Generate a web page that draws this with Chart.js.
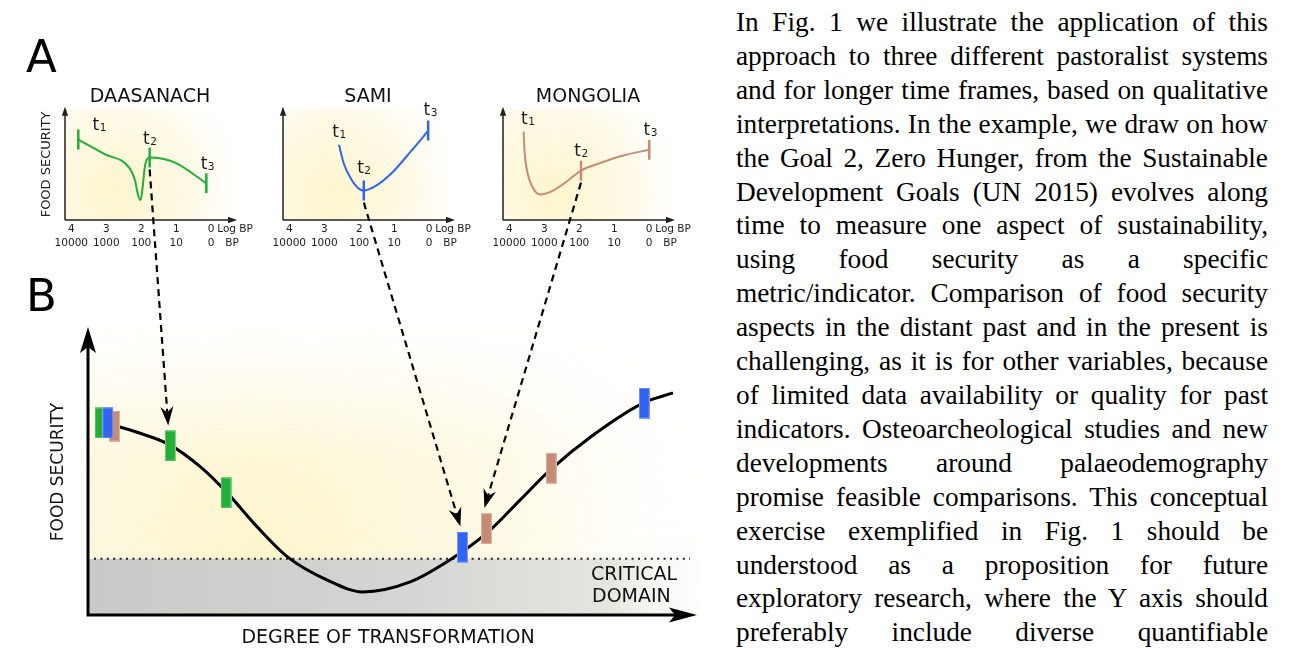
<!DOCTYPE html>
<html>
<head>
<meta charset="utf-8">
<title>Segurança alimentar e grau de transformação</title>
<script src="https://cdn.jsdelivr.net/npm/chart.js@4.4.1/dist/chart.umd.min.js"></script>
<style>
  html, body { margin: 0; padding: 0; background: #fff; }
  #figura { position: relative; width: 1297px; height: 648px; overflow: hidden; }
  #figura canvas { position: absolute; }
  #transformacaoChart { z-index: 5; pointer-events: none; }
  #texto {
    position: absolute; left: 736px; top: 6px; width: 532px;
    font-family: 'Liberation Serif', 'Times New Roman', serif;
    font-size: 27.3px; line-height: 33.9px; color: #000;
  }
  #texto div { white-space: nowrap; text-align: justify; text-align-last: justify; }
</style>
</head>
<body>
<div id="figura">
  <canvas id="daasanachChart" width="255" height="175" style="left:15px;top:80px"></canvas>
  <canvas id="samiChart" width="255" height="175" style="left:233px;top:80px"></canvas>
  <canvas id="mongoliaChart" width="255" height="175" style="left:453px;top:80px"></canvas>
  <canvas id="transformacaoChart" width="700" height="648" style="left:0;top:0"></canvas>
  <div id="texto">
    <div>In Fig. 1 we illustrate the application of this</div>
    <div>approach to three different pastoralist systems</div>
    <div>and for longer time frames, based on qualitative</div>
    <div>interpretations. In the example, we draw on how</div>
    <div>the Goal 2, Zero Hunger, from the Sustainable</div>
    <div>Development Goals (UN 2015) evolves along</div>
    <div>time to measure one aspect of sustainability,</div>
    <div>using food security as a specific</div>
    <div>metric/indicator. Comparison of food security</div>
    <div>aspects in the distant past and in the present is</div>
    <div>challenging, as it is for other variables, because</div>
    <div>of limited data availability or quality for past</div>
    <div>indicators. Osteoarcheological studies and new</div>
    <div>developments around palaeodemography</div>
    <div>promise feasible comparisons. This conceptual</div>
    <div>exercise exemplified in Fig. 1 should be</div>
    <div>understood as a proposition for future</div>
    <div>exploratory research, where the Y axis should</div>
    <div>preferably include diverse quantifiable</div>
  </div>
</div>
<script>
// Painel A: x = log10 dos anos BP, y = segurança alimentar (escala qualitativa 0-10)
const logTicks = [4, 3, 2, 1, 0];
const bpLabels = ['10000', '1000', '100', '10', '0'];

// DAASANACH
const daasanachX = [3.80, 3.06, 2.33, 2.18, 2.09, 2.02, 1.96, 1.90, 1.84, 1.76, 1.05, 0.14];
const daasanachY = [7.23, 5.94, 4.64, 3.57, 2.23, 1.79, 2.95, 4.73, 5.45, 5.63, 5.18, 3.30];
const daasanachTempos = [0, 9, 11];      // índices de t1, t2, t3 na curva
const daasanachMarcados = [0, 9, 11];    // tempos com traço vertical

// SAMI
const samiX = [2.58, 2.44, 2.25, 2.06, 1.87, 1.54, 1.07, 0.60, 0.22, 0.03];
const samiY = [6.76, 5.06, 3.78, 2.95, 2.65, 3.04, 4.22, 5.89, 7.29, 8.04];
const samiTempos = [0, 4, 9];
const samiMarcados = [4, 9];

// MONGOLIA
const mongoliaX = [3.59, 3.56, 3.49, 3.35, 3.11, 2.78, 2.35, 1.95, 1.40, 0.74, 0.00];
const mongoliaY = [7.95, 6.01, 4.38, 3.04, 2.29, 2.59, 3.48, 4.44, 5.12, 5.80, 6.31];
const mongoliaTempos = [0, 7, 10];
const mongoliaMarcados = [7, 10];

// Painel B: x = grau de transformação (0-100), y = segurança alimentar (0-10)
const curvaX = [3.7, 5.3, 8.7, 13.7, 18.7, 23.2, 28.2, 33.3, 39.8, 45.8, 53.7, 60.3, 66.5, 72.0, 77.0, 84.2, 92.5, 97.5];
const curvaY = [6.60, 6.53, 6.31, 5.90, 5.15, 4.24, 3.06, 2.01, 1.22, 0.80, 1.15, 1.91, 2.85, 3.99, 5.03, 6.25, 7.36, 7.71];
const dominioCritico = 1.95;

const verdeX = [2.0, 13.7, 23.0];
const verdeY = [6.67, 5.87, 4.24];
const azulX = [3.3, 62.4, 92.7];
const azulY = [6.67, 2.36, 7.36];
const castanhoX = [4.4, 66.4, 77.2];
const castanhoY = [6.56, 3.00, 5.10];

document.addEventListener('DOMContentLoaded', function() {
  const FONTE = '"DejaVu Sans", Verdana, sans-serif';
  const cores = { verde: '#22ae38', azul: '#3264f4', castanho: '#c48b75' };

  function pontos(xs, ys) {
    return xs.map((x, i) => ({ x: x, y: ys[i] }));
  }

  // Retângulo usado como marcador no painel B
  function criarMarcador(cor, borda) {
    const c = document.createElement('canvas');
    c.width = 11;
    c.height = 31;
    const ctx = c.getContext('2d');
    ctx.fillStyle = borda;
    ctx.fillRect(0, 0, 11, 31);
    ctx.fillStyle = cor;
    ctx.fillRect(1, 1, 9, 29);
    return c;
  }

  // Seta simples (eixos pequenos)
  function setaSimples(ctx, x, y, dx, dy, comp, larg) {
    ctx.beginPath();
    ctx.moveTo(x, y);
    ctx.lineTo(x - dx * comp - dy * larg, y - dy * comp + dx * larg);
    ctx.lineTo(x - dx * comp + dy * larg, y - dy * comp - dx * larg);
    ctx.closePath();
    ctx.fill();
  }

  // Seta com entalhe (eixos grandes e setas tracejadas)
  function setaEntalhe(ctx, x, y, dx, dy, comp, larg, entalhe) {
    ctx.beginPath();
    ctx.moveTo(x, y);
    ctx.lineTo(x - dx * comp - dy * larg, y - dy * comp + dx * larg);
    ctx.lineTo(x - dx * entalhe, y - dy * entalhe);
    ctx.lineTo(x - dx * comp + dy * larg, y - dy * comp - dx * larg);
    ctx.closePath();
    ctx.fill();
  }

  // Rótulo "t" com índice
  function desenharT(ctx, n, cx, cy) {
    ctx.font = '17px ' + FONTE;
    const wt = ctx.measureText('t').width;
    ctx.font = '10.5px ' + FONTE;
    const wd = ctx.measureText(String(n)).width;
    const inicio = cx - (wt + wd) / 2;
    ctx.textAlign = 'left';
    ctx.textBaseline = 'alphabetic';
    ctx.font = '17px ' + FONTE;
    ctx.fillText('t', inicio, cy + 6.5);
    ctx.font = '10.5px ' + FONTE;
    ctx.fillText(String(n), inicio + wt + 0.5, cy + 7.5);
  }

  // Plugin dos gráficos pequenos (fundo, eixos, rótulos)
  function criarPainelA(tempos, deslocamentos, yTitulo) {
    return {
      id: 'painelA',
      beforeDatasetsDraw(chart) {
        const { ctx, chartArea: a } = chart;
        const cx = a.left + a.width * 0.3;
        const cy = a.bottom - a.height * 0.25;
        const g = ctx.createRadialGradient(cx, cy, 0, cx, cy, a.width * 0.85);
        g.addColorStop(0, 'rgba(253,245,204,1)');
        g.addColorStop(0.55, 'rgba(254,249,226,0.8)');
        g.addColorStop(1, 'rgba(255,255,255,0)');
        ctx.save();
        ctx.fillStyle = g;
        ctx.fillRect(a.left, a.top, a.width, a.height);
        ctx.restore();
      },
      afterDatasetsDraw(chart) {
        const { ctx, chartArea: a } = chart;
        const x = chart.scales.x;
        ctx.save();
        ctx.strokeStyle = '#222';
        ctx.fillStyle = '#222';
        ctx.lineWidth = 1.5;
        ctx.beginPath();
        ctx.moveTo(a.left, a.bottom);
        ctx.lineTo(a.left, a.top + 4);
        ctx.moveTo(a.left, a.bottom);
        ctx.lineTo(a.right - 4, a.bottom);
        ctx.stroke();
        setaSimples(ctx, a.left, a.top - 2, 0, -1, 9, 3.2);
        setaSimples(ctx, a.right + 2, a.bottom, 1, 0, 9, 3.2);

        // Ticks em duas linhas (log BP e BP)
        ctx.font = '10.5px ' + FONTE;
        ctx.fillStyle = '#222';
        ctx.textAlign = 'center';
        ctx.textBaseline = 'middle';
        logTicks.forEach((v, i) => {
          const px = x.getPixelForValue(v);
          ctx.fillText(String(v), px, a.bottom + 9);
          ctx.fillText(bpLabels[i], px, a.bottom + 23);
        });
        const x0 = x.getPixelForValue(0);
        ctx.textAlign = 'left';
        ctx.fillText('Log BP', x0 + 6, a.bottom + 9);
        ctx.fillText('BP', x0 + 14, a.bottom + 23);

        if (yTitulo) {
          ctx.save();
          ctx.translate(a.left - 18, (a.top + a.bottom) / 2);
          ctx.rotate(-Math.PI / 2);
          ctx.textAlign = 'center';
          ctx.font = '13px ' + FONTE;
          ctx.fillText(yTitulo, 0, 0);
          ctx.restore();
        }

        // t1, t2, t3
        const meta = chart.getDatasetMeta(1);
        ctx.fillStyle = '#1a1a1a';
        tempos.forEach((idx, k) => {
          const p = meta.data[idx];
          desenharT(ctx, k + 1, p.x + deslocamentos[k][0], p.y + deslocamentos[k][1]);
        });
        ctx.restore();
      }
    };
  }

  function criarGraficoA(canvasId, titulo, xs, ys, tempos, marcados, cor, deslocamentos, yTitulo) {
    return new Chart(document.getElementById(canvasId), {
      type: 'scatter',
      data: {
        datasets: [{
          label: 'tempos',
          data: marcados.map(i => ({ x: xs[i], y: ys[i] })),
          pointStyle: 'line',
          pointRotation: 90,
          pointRadius: 10,
          pointBorderWidth: 2.5,
          pointBorderColor: cor,
          order: 1
        }, {
          label: titulo,
          data: pontos(xs, ys),
          showLine: true,
          borderColor: cor,
          borderWidth: 2,
          pointRadius: 0,
          cubicInterpolationMode: 'monotone',
          order: 2
        }]
      },
      options: {
        responsive: false,
        animation: false,
        events: [],
        layout: { padding: { left: 50, right: 35, top: 2, bottom: 35 } },
        scales: {
          x: { type: 'linear', reverse: true, min: -0.68, max: 4.18, display: false },
          y: { type: 'linear', min: 0, max: 10, display: false }
        },
        plugins: {
          legend: { display: false },
          tooltip: { enabled: false },
          title: {
            display: true,
            text: titulo,
            color: '#111',
            font: { family: FONTE, size: 19, weight: 'normal' },
            padding: { top: 4, bottom: 0 }
          }
        }
      },
      plugins: [criarPainelA(tempos, deslocamentos, yTitulo)]
    });
  }

  // Plugin do painel B (fundo, domínio crítico, eixos, textos, setas)
  function criarPainelB(origens) {
    return {
      id: 'painelB',
      beforeDatasetsDraw(chart) {
        const { ctx, chartArea: a } = chart;
        const y = chart.scales.y;
        ctx.save();
        const cx = a.left + a.width * 0.28;
        const cy = a.bottom - a.height * 0.22;
        const g = ctx.createRadialGradient(cx, cy, 0, cx, cy, a.width * 0.8);
        g.addColorStop(0, 'rgba(253,245,204,1)');
        g.addColorStop(0.55, 'rgba(254,250,228,0.85)');
        g.addColorStop(1, 'rgba(255,255,255,0)');
        ctx.fillStyle = g;
        ctx.fillRect(a.left, a.top - 3, a.width + 14, a.height + 3);
        // esbater o topo para branco
        const topo = ctx.createLinearGradient(0, a.top - 3, 0, a.top + a.height * 0.45);
        topo.addColorStop(0, 'rgba(255,255,255,1)');
        topo.addColorStop(1, 'rgba(255,255,255,0)');
        ctx.fillStyle = topo;
        ctx.fillRect(a.left, a.top - 3, a.width + 14, a.height * 0.45 + 3);

        const yc = y.getPixelForValue(dominioCritico);
        const cinza = ctx.createLinearGradient(a.left, 0, a.right + 14, 0);
        cinza.addColorStop(0, '#c9c9c9');
        cinza.addColorStop(0.5, '#d4d4d2');
        cinza.addColorStop(0.85, '#e5e5e0');
        cinza.addColorStop(1, 'rgba(250,250,245,0.2)');
        ctx.fillStyle = cinza;
        ctx.fillRect(a.left, yc, a.width + 14, a.bottom - yc);

        ctx.strokeStyle = '#222';
        ctx.lineWidth = 2;
        ctx.setLineDash([2, 4.4]);
        ctx.beginPath();
        ctx.moveTo(a.left + 6, yc);
        ctx.lineTo(a.right + 2, yc);
        ctx.stroke();
        ctx.restore();
      },
      afterDatasetsDraw(chart) {
        const { ctx, chartArea: a } = chart;
        ctx.save();
        // Eixos
        ctx.strokeStyle = '#000';
        ctx.fillStyle = '#000';
        ctx.lineWidth = 3;
        ctx.beginPath();
        ctx.moveTo(a.left, a.bottom + 1.5);
        ctx.lineTo(a.left, a.top + 20);
        ctx.moveTo(a.left - 1.5, a.bottom);
        ctx.lineTo(a.right - 12, a.bottom);
        ctx.stroke();
        setaEntalhe(ctx, a.left, a.top, 0, -1, 26, 8, 20);
        setaEntalhe(ctx, a.right + 9, a.bottom, 1, 0, 28, 7.5, 22);

        // Textos
        ctx.fillStyle = '#111';
        ctx.font = '19px ' + FONTE;
        ctx.textAlign = 'center';
        ctx.textBaseline = 'middle';
        ctx.fillText('DEGREE OF TRANSFORMATION', (a.left + a.right) / 2, a.bottom + 23);
        ctx.textAlign = 'left';
        ctx.fillText('CRITICAL', a.right - 97, a.bottom - 40);
        ctx.fillText('DOMAIN', a.right - 96, a.bottom - 18);
        ctx.save();
        ctx.translate(a.left - 29, (a.top + a.bottom) / 2 + 1);
        ctx.rotate(-Math.PI / 2);
        ctx.textAlign = 'center';
        ctx.font = '17px ' + FONTE;
        ctx.fillText('FOOD SECURITY', 0, 0);
        ctx.restore();

        // Letras dos painéis
        ctx.fillStyle = '#000';
        ctx.font = '45px ' + FONTE;
        ctx.textBaseline = 'alphabetic';
        ctx.fillText('A', 26, 72);
        ctx.fillText('B', 26, 311);

        // Setas tracejadas de t2 (painel A) até ao marcador correspondente (painel B)
        const canvasB = chart.canvas;
        origens.forEach(o => {
          const pA = o.grafico.getDatasetMeta(1).data[o.indice];
          const x1 = pA.x + o.grafico.canvas.offsetLeft - canvasB.offsetLeft;
          const y1 = pA.y + o.grafico.canvas.offsetTop - canvasB.offsetTop + 12;
          const pB = chart.getDatasetMeta(o.datasetB).data[o.marcador];
          const x2 = pB.x - 2;
          const y2 = pB.y - 15.5 - 5;
          const ang = Math.atan2(y2 - y1, x2 - x1);
          const dx = Math.cos(ang), dy = Math.sin(ang);
          ctx.save();
          ctx.strokeStyle = '#000';
          ctx.lineWidth = 2.2;
          ctx.setLineDash([7, 5]);
          ctx.beginPath();
          ctx.moveTo(x1, y1);
          ctx.lineTo(x2 - dx * 13, y2 - dy * 13);
          ctx.stroke();
          ctx.setLineDash([]);
          setaEntalhe(ctx, x2, y2, dx, dy, 19, 6.5, 13);
          ctx.restore();
        });
        ctx.restore();
      }
    };
  }

  function inicializarGraficos() {
    const chartDaasanach = criarGraficoA('daasanachChart', 'DAASANACH', daasanachX, daasanachY,
      daasanachTempos, daasanachMarcados, cores.verde, [[21, -16], [0, -20], [1, -21]], 'FOOD SECURITY');
    const chartSami = criarGraficoA('samiChart', 'SAMI', samiX, samiY,
      samiTempos, samiMarcados, cores.azul, [[0, -14], [0, -24], [2, -22]], '');
    const chartMongolia = criarGraficoA('mongoliaChart', 'MONGOLIA', mongoliaX, mongoliaY,
      mongoliaTempos, mongoliaMarcados, cores.castanho, [[4, -14], [0, -21], [1, -21]], '');

    // Painel B
    new Chart(document.getElementById('transformacaoChart'), {
      type: 'scatter',
      data: {
        datasets: [{
          label: 'Sami',
          data: pontos(azulX, azulY),
          pointStyle: criarMarcador(cores.azul, '#7d9cf8'),
          pointRadius: 5,
          order: 1
        }, {
          label: 'Daasanach',
          data: pontos(verdeX, verdeY),
          pointStyle: criarMarcador(cores.verde, '#79d186'),
          pointRadius: 5,
          order: 2
        }, {
          label: 'Mongolia',
          data: pontos(castanhoX, castanhoY),
          pointStyle: criarMarcador(cores.castanho, '#dcb5a6'),
          pointRadius: 5,
          order: 3
        }, {
          label: 'Trajetória',
          data: pontos(curvaX, curvaY),
          showLine: true,
          borderColor: '#000',
          borderWidth: 3,
          pointRadius: 0,
          cubicInterpolationMode: 'monotone',
          order: 4
        }]
      },
      options: {
        responsive: false,
        animation: false,
        events: [],
        layout: { padding: { left: 88, right: 12, top: 327, bottom: 33 } },
        scales: {
          x: { type: 'linear', min: 0, max: 100, display: false },
          y: { type: 'linear', min: 0, max: 10, display: false }
        },
        plugins: {
          legend: { display: false },
          tooltip: { enabled: false }
        }
      },
      plugins: [criarPainelB([
        { grafico: chartDaasanach, indice: daasanachTempos[1], datasetB: 1, marcador: 1 },
        { grafico: chartSami, indice: samiTempos[1], datasetB: 0, marcador: 1 },
        { grafico: chartMongolia, indice: mongoliaTempos[1], datasetB: 2, marcador: 1 }
      ])]
    });
  }

  inicializarGraficos();
});
</script>
</body>
</html>
